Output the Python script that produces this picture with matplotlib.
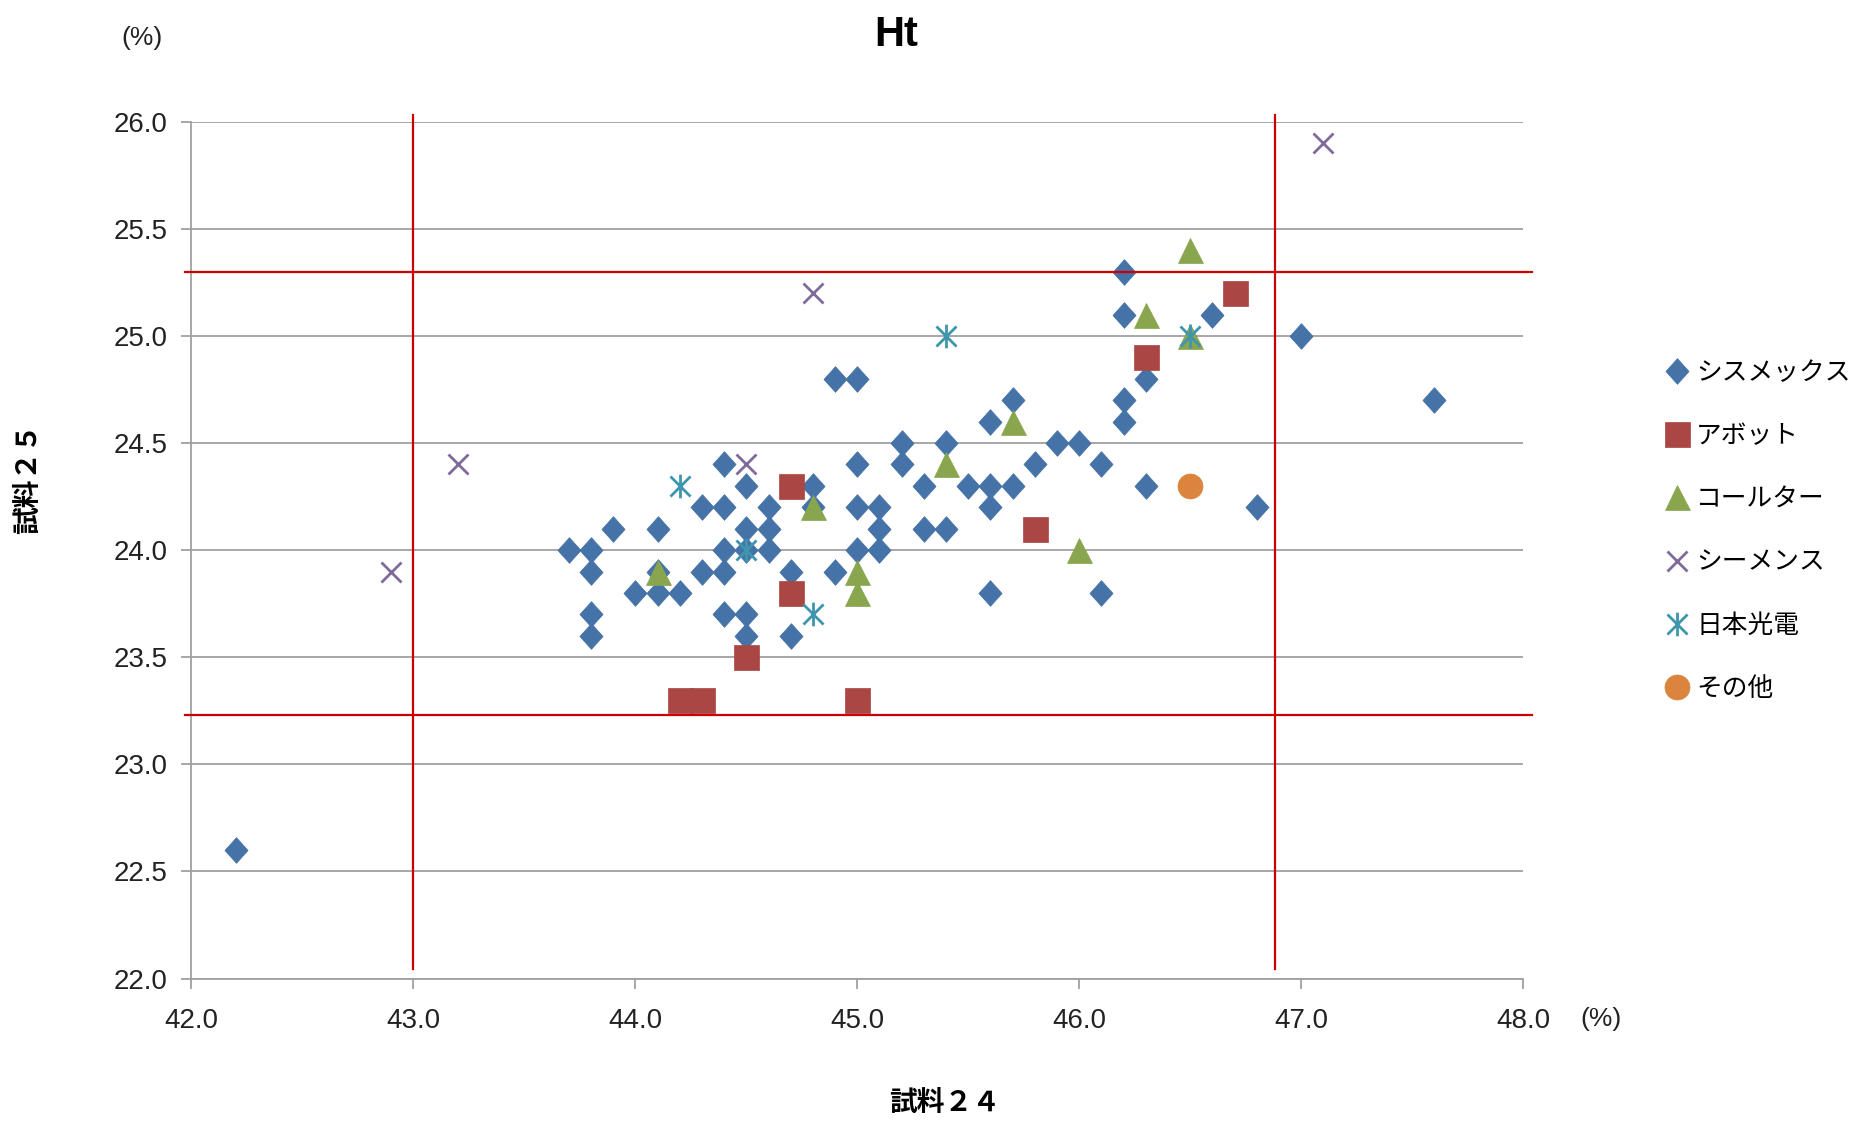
import matplotlib
matplotlib.use("Agg")
import matplotlib.pyplot as plt
from matplotlib.path import Path

plt.rcParams['font.family'] = ['Noto Sans CJK JP', 'DejaVu Sans']

# ---- data (試料24 x, 試料25 y) ----
sysmex_x = [42.2, 43.7, 43.8, 43.8, 43.8, 43.8, 43.9, 44.0, 44.1, 44.1, 44.1, 44.2,
            44.3, 44.3, 44.4, 44.4, 44.4, 44.4, 44.4, 44.5, 44.5, 44.5, 44.5, 44.5,
            44.6, 44.6, 44.6, 44.7, 44.7, 44.8, 44.8, 44.9, 44.9, 45.0, 45.0, 45.0,
            45.0, 45.1, 45.1, 45.1, 45.2, 45.2, 45.3, 45.3, 45.4, 45.4, 45.5, 45.6,
            45.6, 45.6, 45.6, 45.7, 45.7, 45.8, 45.9, 46.0, 46.1, 46.1, 46.2, 46.2,
            46.2, 46.2, 46.3, 46.3, 46.6, 46.8, 47.0, 47.6]
sysmex_y = [22.6, 24.0, 24.0, 23.9, 23.7, 23.6, 24.1, 23.8, 24.1, 23.9, 23.8, 23.8,
            24.2, 23.9, 24.4, 24.2, 24.0, 23.9, 23.7, 24.3, 24.1, 24.0, 23.7, 23.6,
            24.2, 24.1, 24.0, 23.9, 23.6, 24.3, 24.2, 24.8, 23.9, 24.8, 24.4, 24.2,
            24.0, 24.2, 24.1, 24.0, 24.5, 24.4, 24.3, 24.1, 24.5, 24.1, 24.3, 24.6,
            24.3, 24.2, 23.8, 24.7, 24.3, 24.4, 24.5, 24.5, 24.4, 23.8, 25.3, 25.1,
            24.7, 24.6, 24.8, 24.3, 25.1, 24.2, 25.0, 24.7]

abbott_x = [44.2, 44.3, 44.5, 44.7, 44.7, 45.0, 45.8, 46.3, 46.7]
abbott_y = [23.3, 23.3, 23.5, 24.3, 23.8, 23.3, 24.1, 24.9, 25.2]

coulter_x = [44.1, 44.8, 45.0, 45.0, 45.4, 45.7, 46.0, 46.3, 46.5, 46.5]
coulter_y = [23.9, 24.2, 23.9, 23.8, 24.4, 24.6, 24.0, 25.1, 25.4, 25.0]

siemens_x = [42.9, 43.2, 44.5, 44.8, 47.1]
siemens_y = [23.9, 24.4, 24.4, 25.2, 25.9]

nihon_x = [44.2, 44.5, 44.8, 45.4, 46.5]
nihon_y = [24.3, 24.0, 23.7, 25.0, 25.0]

other_x = [46.5]
other_y = [24.3]

series_names = ['シスメックス', 'アボット', 'コールター', 'シーメンス', '日本光電', 'その他']

# reference (limit) lines
ref_x = [43.0, 46.88]
ref_y = [25.3, 23.23]

x_ticks = [42.0, 43.0, 44.0, 45.0, 46.0, 47.0, 48.0]
y_ticks = [22.0, 22.5, 23.0, 23.5, 24.0, 24.5, 25.0, 25.5, 26.0]

# ---- figure ----
fig = plt.figure(figsize=(18.53, 11.21), dpi=100)
ax = fig.add_axes([0.1033, 0.1271, 0.7187, 0.7643])

star = Path([(0, -1), (0, 1), (-0.85, -0.85), (0.85, 0.85), (-0.85, 0.85), (0.85, -0.85)],
            [Path.MOVETO, Path.LINETO, Path.MOVETO, Path.LINETO, Path.MOVETO, Path.LINETO])
diamond = Path([(0, 1), (0.9, 0), (0, -1), (-0.9, 0), (0, 1)],
               [Path.MOVETO, Path.LINETO, Path.LINETO, Path.LINETO, Path.CLOSEPOLY])

c_blue = '#4572A7'
c_red = '#AA4643'
c_green = '#89A54E'
c_purple = '#80699B'
c_teal = '#3D96AE'
c_orange = '#DB843D'

ax.plot(sysmex_x, sysmex_y, ls='none', marker=diamond, ms=18.5, mfc=c_blue, mec=c_blue, mew=0.5,
        label=series_names[0], zorder=3)
ax.plot(abbott_x, abbott_y, ls='none', marker='s', ms=18, mfc=c_red, mec=c_red, mew=0.5,
        label=series_names[1], zorder=3)
ax.plot(coulter_x, coulter_y, ls='none', marker='^', ms=18, mfc=c_green, mec=c_green, mew=0.5,
        label=series_names[2], zorder=3)
ax.plot(siemens_x, siemens_y, ls='none', marker='x', ms=15, mec=c_purple, mew=2.0,
        label=series_names[3], zorder=3)
ax.plot(nihon_x, nihon_y, ls='none', marker=star, ms=17, mfc='none', mec=c_teal, mew=2.0,
        label=series_names[4], zorder=3)
ax.plot(other_x, other_y, ls='none', marker='o', ms=18, mfc=c_orange, mec=c_orange, mew=0.5,
        label=series_names[5], zorder=3)

ax.set_xlim(x_ticks[0], x_ticks[-1])
ax.set_ylim(y_ticks[0], y_ticks[-1])
ax.set_xticks(x_ticks)
ax.set_yticks(y_ticks)
ax.set_xticklabels([f'{v:.1f}' for v in x_ticks])
ax.set_yticklabels([f'{v:.1f}' for v in y_ticks])

tick_font = ['Liberation Sans Narrow', 'Liberation Sans', 'DejaVu Sans']
for lab in ax.get_xticklabels() + ax.get_yticklabels():
    lab.set_family(tick_font)
    lab.set_fontsize(20)
    lab.set_color('#222222')

ax.grid(axis='y', color='#A0A0A0', lw=1.3, zorder=1)
ax.set_axisbelow(True)
for s in ['top', 'right']:
    ax.spines[s].set_visible(False)
for s in ['left', 'bottom']:
    ax.spines[s].set_color('#A0A0A0')
    ax.spines[s].set_linewidth(1.3)
ax.tick_params(axis='both', direction='out', length=7, width=1.3, color='#A0A0A0')
ax.tick_params(axis='x', pad=14)
ax.tick_params(axis='y', pad=10)

# red reference lines (extend slightly past plot area)
red = '#CC0000'
for xv in ref_x:
    ax.plot([xv, xv], [22.045, 26.033], color=red, lw=1.6, clip_on=False, zorder=4)
for yv in ref_y:
    ax.plot([41.973, 48.038], [yv, yv], color=red, lw=1.6, clip_on=False, zorder=4)

# texts
fig.text(0.4835, 0.969, 'Ht', ha='center', va='center', fontsize=30, fontweight='bold',
         family=['Liberation Sans', 'DejaVu Sans'])
fig.text(0.0766, 0.966, '(%)', ha='center', va='center', fontsize=19,
         family=tick_font, color='#222222')
fig.text(0.864, 0.091, '(%)', ha='center', va='center', fontsize=19,
         family=tick_font, color='#222222')
fig.text(0.510, 0.016, '試料２４', ha='center', va='center', fontsize=20, fontweight='bold')
fig.text(0.0151, 0.573, '試料２５', ha='center', va='center', fontsize=20, fontweight='bold',
         rotation=90)

leg = fig.legend(loc='upper left', bbox_to_anchor=(0.898, 0.679), frameon=False,
                 fontsize=18.5, handlelength=1.0, handletextpad=0.25, labelspacing=1.45,
                 borderaxespad=0, borderpad=0)

fig.savefig('out.png', dpi=100, facecolor='white')
